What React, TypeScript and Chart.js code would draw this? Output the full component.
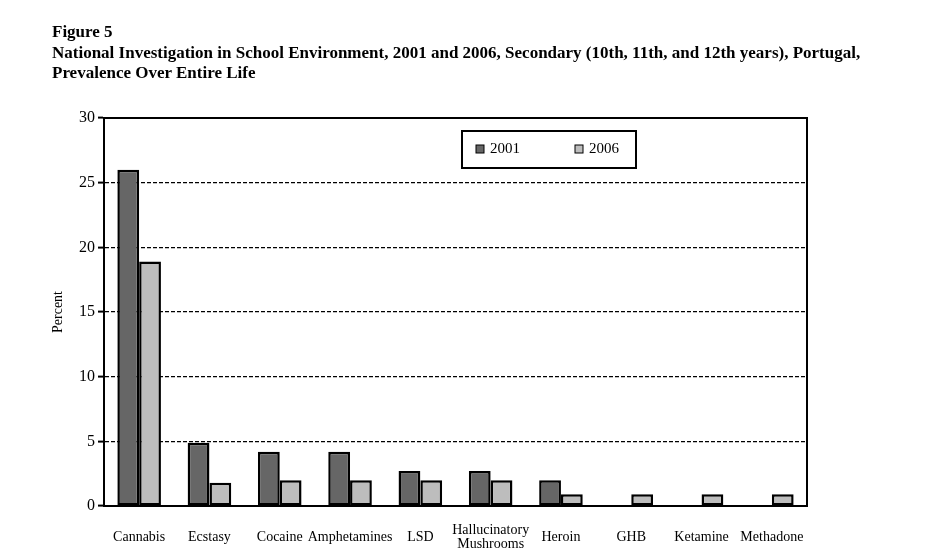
import React, { useEffect, useRef } from "react";
import { Chart, registerables } from "chart.js";

Chart.register(...registerables);

const categories: (string | string[])[] = [
  "Cannabis",
  "Ecstasy",
  "Cocaine",
  "Amphetamines",
  "LSD",
  ["Hallucinatory", "Mushrooms"],
  "Heroin",
  "GHB",
  "Ketamine",
  "Methadone",
];
const values2001: (number | null)[] = [26, 4.9, 4.2, 4.2, 2.7, 2.7, 2.0, null, null, null];
const values2006: number[] = [18.9, 1.8, 2.0, 2.0, 2.0, 2.0, 0.9, 0.9, 0.9, 0.9];
const seriesLabels = ["2001", "2006"];
const yTicks = [0, 5, 10, 15, 20, 25, 30];
const titleLines = [
  "Figure 5",
  "National Investigation in School Environment, 2001 and 2006, Secondary (10th, 11th, and 12th years), Portugal,",
  "Prevalence Over Entire Life",
];

const FONT = "'Liberation Serif', 'Times New Roman', serif";

const framePlugin = {
  id: "frame",
  afterDraw(chart: any) {
    const { ctx, chartArea } = chart;
    ctx.save();
    ctx.strokeStyle = "#000";
    ctx.lineWidth = 2;
    ctx.setLineDash([]);
    ctx.beginPath();
    ctx.moveTo(chartArea.left, chartArea.top);
    ctx.lineTo(chartArea.right, chartArea.top);
    ctx.lineTo(chartArea.right, chartArea.bottom);
    ctx.stroke();
    ctx.restore();
  },
};

const legendBoxPlugin = {
  id: "legendBox",
  afterDraw(chart: any) {
    const { ctx } = chart;
    const x = 462, y = 131, w = 174, h = 37;
    ctx.save();
    ctx.fillStyle = "#fff";
    ctx.fillRect(x, y, w, h);
    ctx.strokeStyle = "#000";
    ctx.lineWidth = 2;
    ctx.strokeRect(x, y, w, h);
    ctx.font = `15px ${FONT}`;
    ctx.textBaseline = "middle";
    const offsets = [14, 113];
    chart.data.datasets.forEach((ds: any, i: number) => {
      const sx = x + offsets[i];
      const sy = y + 14;
      ctx.fillStyle = ds.backgroundColor;
      ctx.fillRect(sx, sy, 8, 8);
      ctx.strokeStyle = "#000";
      ctx.lineWidth = 1;
      ctx.strokeRect(sx, sy, 8, 8);
      ctx.fillStyle = "#000";
      ctx.fillText(ds.label, sx + 14, sy + 4);
    });
    ctx.restore();
  },
};

export default function App() {
  const ref = useRef<HTMLCanvasElement | null>(null);

  useEffect(() => {
    if (!ref.current) return;
    const chart = new Chart(ref.current, {
      type: "bar",
      data: {
        labels: categories,
        datasets: [
          {
            label: seriesLabels[0],
            data: values2001,
            backgroundColor: "#666666",
            borderColor: "#000",
            borderWidth: 2.5,
            borderSkipped: false,
          },
          {
            label: seriesLabels[1],
            data: values2006,
            backgroundColor: "#bdbdbd",
            borderColor: "#000",
            borderWidth: 2.5,
            borderSkipped: false,
          },
        ],
      },
      options: {
        responsive: false,
        animation: false,
        events: [],
        layout: { padding: { left: 0, top: 118, right: 120, bottom: 0 } },
        datasets: { bar: { categoryPercentage: 0.62, barPercentage: 1 } },
        plugins: {
          legend: { display: false },
          title: { display: false },
          tooltip: { enabled: false },
        },
        scales: {
          x: {
            grid: { display: false, drawTicks: false },
            border: { display: true, color: "#000", width: 2 },
            ticks: {
              color: "#000",
              font: { family: FONT, size: 14, lineHeight: 1.0 },
              maxRotation: 0,
              minRotation: 0,
              autoSkip: false,
              padding: 24,
              crossAlign: "center",
            },
            afterFit(scale: any) {
              scale.height = 554 - 506;
            },
          },
          y: {
            min: 0,
            max: 30,
            afterBuildTicks(scale: any) {
              scale.ticks = yTicks.map((v) => ({ value: v }));
            },
            grid: {
              color: (ctx: any) =>
                ctx.tick && (ctx.tick.value === 0 || ctx.tick.value === 30) ? "rgba(0,0,0,0)" : "#000",
              lineWidth: 1.2,
              tickColor: "#000",
              tickLength: 6,
              tickWidth: 2,
              tickBorderDash: [],
            },
            border: { display: true, color: "#000", width: 2, dash: [4, 2] },
            ticks: {
              color: "#000",
              font: { family: FONT, size: 16 },
              padding: 3,
            },
            title: {
              display: true,
              text: "Percent",
              color: "#000",
              font: { family: FONT, size: 14 },
              padding: { top: 50, bottom: 0 },
            },
            afterFit(scale: any) {
              scale.width = 104;
            },
          },
        },
      },
      plugins: [framePlugin, legendBoxPlugin],
    } as any);
    return () => chart.destroy();
  }, []);

  return (
    <div style={{ position: "fixed", left: 0, top: 0, width: 927, height: 554, background: "#fff" }}>
      <canvas ref={ref} width={927} height={554} style={{ position: "absolute", left: 0, top: 0 }} />
      {titleLines.map((t, i) => (
        <div
          key={i}
          style={{
            position: "absolute",
            left: 52,
            top: 22 + i * 20.5,
            fontFamily: FONT,
            fontWeight: "bold",
            fontSize: 17,
            lineHeight: "20px",
            whiteSpace: "nowrap",
            color: "#000",
          }}
        >
          {t}
        </div>
      ))}
    </div>
  );
}
